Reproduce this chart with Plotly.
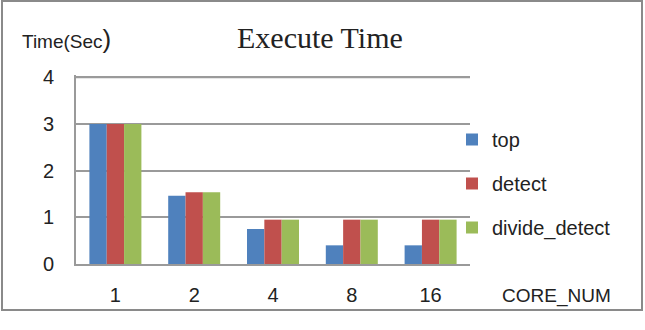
import plotly.graph_objects as go

categories = ["1", "2", "4", "8", "16"]
series_names = ["top", "detect", "divide_detect"]
top_vals = [3.0, 1.46, 0.75, 0.40, 0.40]
detect_vals = [3.0, 1.54, 0.95, 0.95, 0.95]
divide_detect_vals = [3.0, 1.54, 0.95, 0.95, 0.95]
colors = ["#4F81BD", "#C0504D", "#9BBB59"]
y_ticks = [0, 1, 2, 3, 4]

W, H = 645, 330
L, R, T, B = 76, 175, 75, 66
pw, ph = W - L - R, H - T - B

def px_to_paper_x(px):
    return (px - L) / pw

def px_to_paper_y(py):
    return (H - B - py) / ph

fig = go.Figure()
for i, (name, vals) in enumerate(zip(series_names, [top_vals, detect_vals, divide_detect_vals])):
    fig.add_trace(go.Bar(x=categories, y=vals, name=name, marker_color=colors[i],
                         marker_line_width=0, legendgroup=name))

sans = "Liberation Sans, Arial, sans-serif"
fig.update_layout(
    width=W, height=H,
    margin=dict(l=L, r=R, t=T, b=B),
    paper_bgcolor="white", plot_bgcolor="white",
    barmode="group", bargap=0.34, bargroupgap=0,
    showlegend=True,
    legend=dict(x=px_to_paper_x(452), y=px_to_paper_y(120), xanchor="left", yanchor="top",
                font=dict(family=sans, size=20, color="#222"),
                tracegroupgap=15, bgcolor="rgba(0,0,0,0)"),
    xaxis=dict(type="category", showgrid=False, showline=True, linecolor="#9a9a9a", linewidth=2,
               ticks="", tickfont=dict(family=sans, size=20, color="#222"), ticklabelstandoff=12),
    yaxis=dict(range=[0, 4.05], tickvals=y_ticks, showgrid=True, gridcolor="#9a9a9a", gridwidth=2,
               showline=True, linecolor="#9a9a9a", linewidth=2, zeroline=False, ticks="",
               tickfont=dict(family=sans, size=20, color="#222"), ticklabelstandoff=16),
    font=dict(family=sans),
)

# explicit gridline at the top tick value
fig.add_hline(y=y_ticks[-1], line_color="#9a9a9a", line_width=2, layer="above")

fig.add_annotation(text="Execute Time", xref="paper", yref="paper",
                   x=px_to_paper_x(320), y=px_to_paper_y(38), xanchor="center", yanchor="middle",
                   showarrow=False,
                   font=dict(family="Liberation Serif, Times New Roman, serif", size=30, color="#222"))
fig.add_annotation(text="Time(Sec<span style='font-size:26px'>)</span>", xref="paper", yref="paper",
                   x=px_to_paper_x(20), y=px_to_paper_y(39), xanchor="left", yanchor="middle",
                   showarrow=False, font=dict(family=sans, size=19, color="#222"))
fig.add_annotation(text="CORE_NUM", xref="paper", yref="paper",
                   x=px_to_paper_x(556), y=px_to_paper_y(296), xanchor="center", yanchor="middle",
                   showarrow=False, font=dict(family=sans, size=19, color="#222"))

fig.add_shape(type="rect", xref="paper", yref="paper",
              x0=px_to_paper_x(2), x1=px_to_paper_x(642),
              y0=px_to_paper_y(310), y1=px_to_paper_y(1),
              line=dict(color="#8a8a8a", width=2))

fig.write_html("out.html")
